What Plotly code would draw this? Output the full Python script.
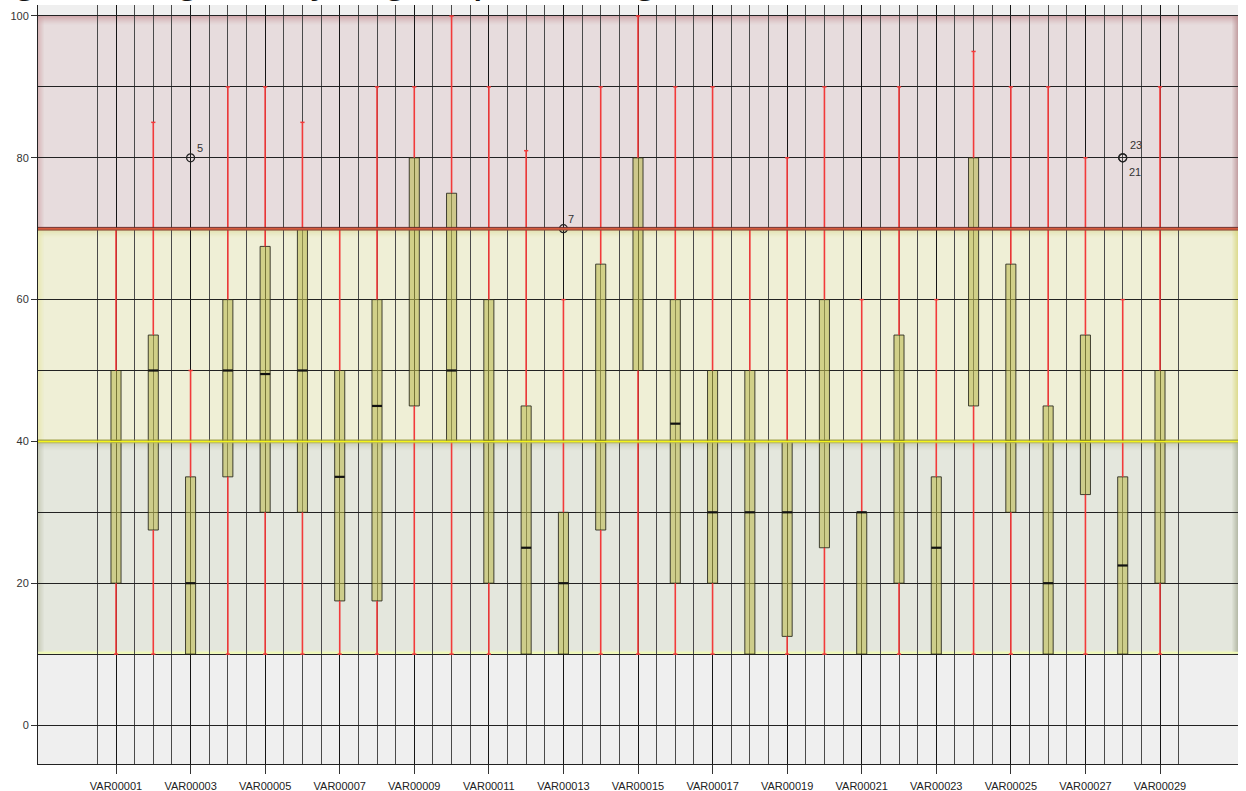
import numpy as np
import plotly.graph_objects as go

# ---- data -------------------------------------------------------------
variables = [
    "VAR00001", "VAR00002", "VAR00003", "VAR00004", "VAR00005", "VAR00006",
    "VAR00007", "VAR00008", "VAR00009", "VAR00010", "VAR00011", "VAR00012",
    "VAR00013", "VAR00014", "VAR00015", "VAR00016", "VAR00017", "VAR00018",
    "VAR00019", "VAR00020", "VAR00021", "VAR00022", "VAR00023", "VAR00024",
    "VAR00025", "VAR00026", "VAR00027", "VAR00028", "VAR00029",
]
whisker_low = [10, 10, 10, 10, 10, 10, 10, 10, 10, 10, 10, 10, 10, 10, 10,
               10, 10, 10, 10, 10, 10, 10, 10, 10, 10, 10, 10, 10, 10]
q1 = [20, 27.5, 10, 35, 30, 30, 17.5, 17.5, 45, 40, 20, 10, 10, 27.5, 50,
      20, 20, 10, 12.5, 25, 10, 20, 10, 45, 30, 10, 32.5, 10, 20]
median = [40, 50, 20, 50, 49.5, 50, 35, 45, 70, 50, 40, 25, 20, 40, 70,
          42.5, 30, 30, 30, 40, 30, 40, 25, 70, 40, 20, 40, 22.5, 40]
q3 = [50, 55, 35, 60, 67.5, 70, 50, 60, 80, 75, 60, 45, 30, 65, 80,
      60, 50, 50, 40, 60, 30, 55, 35, 80, 65, 45, 55, 35, 50]
whisker_high = [70, 85, 50, 90, 90, 85, 70, 90, 90, 100, 90, 81, 60, 90, 100,
                90, 90, 70, 80, 90, 60, 90, 60, 95, 90, 90, 80, 60, 90]

outlier_var = [3, 13, 28, 28]
outlier_value = [80, 70, 80, 80]
outlier_case = ["5", "7", "23", "21"]

title_text = "Item ranking \u2013 rating set by a group ranking"

# rating bands: (low, high)
band_red = (70, 100)
band_yellow = (40, 70)
band_green = (10, 40)

# ---- figure -----------------------------------------------------------
pos = np.arange(1, len(variables) + 1)
BOX_W = 0.27
RED = "#f23a3a"

fig = go.Figure()

# whiskers (min -> Q1, Q3 -> max)
wx, wy = [], []
for p, lo, a, b, hi in zip(pos, whisker_low, q1, q3, whisker_high):
    if lo < a:
        wx += [p, p, None]
        wy += [lo, a, None]
    if hi > b:
        wx += [p, p, None]
        wy += [b, hi, None]
fig.add_trace(go.Scatter(x=wx, y=wy, mode="lines",
                         line=dict(color=RED, width=1.6), hoverinfo="skip"))

# whisker caps
cx, cy = [], []
for p, lo, a, b, hi in zip(pos, whisker_low, q1, q3, whisker_high):
    if lo < a:
        cx.append(p); cy.append(lo)
    if hi > b:
        cx.append(p); cy.append(hi)
fig.add_trace(go.Scatter(x=cx, y=cy, mode="markers",
                         marker=dict(symbol="line-ew", size=3, color=RED,
                                     line=dict(color=RED, width=1.5)),
                         hoverinfo="skip"))

# boxes (Q1 -> Q3)
fig.add_trace(go.Bar(
    x=pos, y=np.array(q3) - np.array(q1), base=q1, width=BOX_W,
    marker=dict(color="rgba(188,186,80,0.58)",
                line=dict(color="rgba(35,35,25,0.85)", width=1)),
    hoverinfo="skip"))

# medians
mx, my = [], []
for p, m in zip(pos, median):
    mx += [p - BOX_W / 2, p + BOX_W / 2, None]
    my += [m, m, None]
fig.add_trace(go.Scatter(x=mx, y=my, mode="lines",
                         line=dict(color="#111", width=2.2), hoverinfo="skip"))

# outliers
fig.add_trace(go.Scatter(x=outlier_var, y=outlier_value, mode="markers",
                         marker=dict(symbol="circle-open", size=8, color="#222",
                                     line=dict(color="#222", width=1.2)),
                         hoverinfo="skip"))

label_shift = {"5": (9, 10), "7": (8, 10), "23": (13, 13), "21": (12, -14)}
for v, val, case in zip(outlier_var, outlier_value, outlier_case):
    dx, dy = label_shift[case]
    fig.add_annotation(x=v, y=val, text=case, showarrow=False,
                       xshift=dx, yshift=dy,
                       font=dict(size=11, color="#333"))

# ---- bevelled background bands ----------------------------------------
shapes = []


def rect(x0, x1, y0, y1, color, opacity=1.0, layer="below"):
    shapes.append(dict(type="rect", xref="paper", yref="y", x0=x0, x1=x1,
                       y0=y0, y1=y1, fillcolor=color, opacity=opacity,
                       line=dict(width=0), layer=layer))


def hline(y, color, width=1, layer="below"):
    shapes.append(dict(type="line", xref="paper", yref="y", x0=0, x1=1,
                       y0=y, y1=y, line=dict(color=color, width=width),
                       layer=layer))


PX_X = 1.0 / 1200.0      # one pixel in paper x
PX_Y = 1.0 / 7.09        # one pixel in data y


def band(lo, hi, fill, top_shade, bottom_glow, left_shade, right_shade,
         top_px=9, side_px=6):
    rect(0, 1, lo, hi, fill)
    # top inner shadow
    for k in range(top_px):
        op = 0.75 * (1 - k / top_px) ** 1.4
        rect(0, 1, hi - (k + 1) * PX_Y, hi - k * PX_Y, top_shade, op)
    # bottom glow
    for k in range(4):
        op = 0.8 * (1 - k / 4)
        rect(0, 1, lo + k * PX_Y, lo + (k + 1) * PX_Y, bottom_glow, op)
    # left bevel
    for k in range(side_px):
        op = 0.6 * (1 - k / side_px)
        rect(k * PX_X, (k + 1) * PX_X, lo, hi, left_shade, op)
    # right bevel
    for k in range(side_px):
        op = 0.75 * (1 - k / side_px)
        rect(1 - (k + 1) * PX_X, 1 - k * PX_X, lo, hi, right_shade, op)


band(*band_green, fill="#e4e7dd", top_shade="#b9bfa8", bottom_glow="#f4fbcc",
     left_shade="#b9bea4", right_shade="#a8ae98")
band(*band_yellow, fill="#efefd6", top_shade="#dcdb98", bottom_glow="#f7f7dc",
     left_shade="#e6e4a0", right_shade="#d8d67c")
band(*band_red, fill="#e7dcdd", top_shade="#c99a9e", bottom_glow="#f7e4e8",
     left_shade="#cfa3a6", right_shade="#b98f92")

# band borders, drawn over the boxes
rect(0, 1, band_red[0] - 1.2 * PX_Y, band_red[0] + 1.0 * PX_Y, "#d65a3c",
     layer="above")
hline(band_red[0] + 1.3 * PX_Y, "#6e2e28", 1, "above")
hline(band_red[0] - 1.4 * PX_Y, "#8a4a3a", 1, "above")
rect(0, 1, band_yellow[0] - 1.1 * PX_Y, band_yellow[0] + 1.0 * PX_Y, "#f4f41a",
     layer="above")
hline(band_yellow[0] + 1.3 * PX_Y, "#8c8c26", 1, "above")
hline(band_yellow[0] - 1.4 * PX_Y, "#b8b850", 1, "above")
rect(0, 1, band_green[0] + 0.4 * PX_Y, band_green[0] + 2.4 * PX_Y, "#eef8b4")

# ---- title (runs off the top of the page) ------------------------------
fig.add_annotation(xref="paper", yref="paper", x=-0.2083, y=1,
                   xanchor="left", yanchor="bottom", yshift=1,
                   text=title_text, showarrow=False,
                   font=dict(family="Liberation Sans, Arial, sans-serif",
                             size=45, color="#111"))

minor_x = [v / 2 for v in range(1, 60) if not (v % 2 == 0 and (v // 2) % 2 == 1)]

fig.update_layout(
    width=1246, height=791,
    margin=dict(l=38, r=8, t=5, b=27),
    paper_bgcolor="white", plot_bgcolor="#efefef",
    showlegend=False, barmode="overlay",
    font=dict(family="Liberation Sans, Arial, sans-serif", size=11, color="#222"),
    shapes=shapes,
)
fig.update_xaxes(
    range=[-1.092, 31.092], tickmode="array",
    tickvals=list(pos[::2]), ticktext=variables[::2],
    showgrid=True, gridcolor="#151515", gridwidth=1,
    ticks="outside", ticklen=9, tickcolor="#333", ticklabelstandoff=3,
    showline=True, linecolor="#222", linewidth=1, zeroline=False,
    automargin=False,
    tickfont=dict(size=11, color="#222"),
    minor=dict(tickmode="array", tickvals=minor_x, showgrid=True,
               gridcolor="#4a4a4a", gridwidth=1, ticks=""),
)
fig.update_yaxes(
    range=[-5.5, 101.55], tickmode="array", tickvals=[0, 20, 40, 60, 80, 100],
    showgrid=True, gridcolor="#222", gridwidth=1,
    ticks="outside", ticklen=6, tickcolor="#333",
    showline=True, linecolor="#222", linewidth=1, zeroline=False,
    automargin=False,
    tickfont=dict(size=11, color="#333"),
    minor=dict(tickmode="array", tickvals=[10, 30, 50, 70, 90], showgrid=True,
               gridcolor="#222", gridwidth=1, ticks=""),
)

fig.write_html("out.html", config={"displayModeBar": False})
